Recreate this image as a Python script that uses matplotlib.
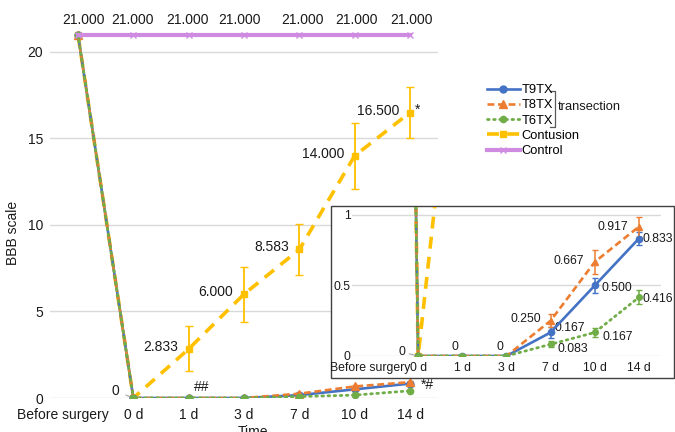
import numpy as np
import matplotlib
matplotlib.use("Agg")
import matplotlib.pyplot as plt
from matplotlib.lines import Line2D
from matplotlib.patches import Rectangle
import matplotlib.transforms as mtransforms

plt.rcParams['font.family'] = ['Liberation Sans', 'DejaVu Sans']

# data
days = ['Before surgery', '0 d', '1 d', '3 d', '7 d', '10 d', '14 d']
t9tx = [21, 0, 0, 0, 0.167, 0.500, 0.833]
t9tx_err = [0, 0, 0, 0, 0.04, 0.055, 0.045]
t8tx = [21, 0, 0, 0, 0.250, 0.667, 0.917]
t8tx_err = [0, 0, 0, 0, 0.045, 0.085, 0.07]
t6tx = [21, 0, 0, 0, 0.083, 0.167, 0.416]
t6tx_err = [0, 0, 0, 0, 0.02, 0.033, 0.05]
contusion = [21, 0, 2.833, 6.000, 8.583, 14.000, 16.500]
contusion_err = [0, 0, 1.3, 1.6, 1.5, 1.9, 1.5]
control = [21, 21, 21, 21, 21, 21, 21]

W, H = 675, 432
def box(x0, y0, x1, y1):
    return [x0 / W, 1 - y1 / H, (x1 - x0) / W, (y1 - y0) / H]

c_blue = '#4472C4'
c_orange = '#ED7D31'
c_green = '#70AD47'
c_yellow = '#FFC000'
c_violet = '#CF8BE2'
grid_c = '#D9D9D9'
txt_c = '#1A1A1A'

x = np.arange(len(days))

def draw_series(ax, ms_scale=1.0):
    ax.errorbar(x, contusion, yerr=contusion_err, color=c_yellow,
                lw=2.6, dashes=(3.3, 2.3), marker='s', ms=5 * ms_scale,
                elinewidth=1.3, capsize=3, zorder=2)
    ax.errorbar(x, t9tx, yerr=t9tx_err, color=c_blue, lw=1.9, marker='o',
                ms=5 * ms_scale, elinewidth=1.1, capsize=2.5, zorder=3)
    ax.errorbar(x, t8tx, yerr=t8tx_err, color=c_orange, lw=1.9, dashes=(2.6, 1.4),
                marker='^', ms=5.5 * ms_scale, elinewidth=1.1, capsize=2.5, zorder=3)
    ax.errorbar(x, t6tx, yerr=t6tx_err, color=c_green, lw=2.0, dashes=(0.6, 1.6),
                dash_capstyle='round', marker='o', ms=4.5 * ms_scale,
                elinewidth=1.1, capsize=2.5, zorder=3)
    ax.plot(x, control, color=c_violet, lw=3.0, marker='x', ms=5 * ms_scale,
            mew=1.0, zorder=4)

fig = plt.figure(figsize=(6.75, 4.32), dpi=100)

# main chart
ax = fig.add_axes(box(50.3, 26, 437.7, 398))
draw_series(ax)
ax.set_xlim(-0.5, 6.5)
ax.set_ylim(0, 21.5)
ax.set_yticks([0, 5, 10, 15, 20])
ax.set_xticks(x)
ax.set_xticklabels(days)
ax.grid(axis='y', color=grid_c, lw=1)
ax.set_axisbelow(True)
for s in ax.spines.values():
    s.set_visible(False)
ax.tick_params(length=0, labelsize=10, labelcolor=txt_c)
ax.tick_params(axis='y', pad=5)
ax.tick_params(axis='x', pad=7.5)
lab0 = ax.get_xticklabels()[0]
lab0.set_transform(lab0.get_transform() +
                   mtransforms.ScaledTranslation(-15 / 100, 0, fig.dpi_scale_trans))
ax.set_ylabel('BBB scale', fontsize=10, color=txt_c)
ax.yaxis.set_label_coords(-0.078, 0.444)
ax.set_xlabel('Time', fontsize=10, color=txt_c)
ax.xaxis.set_label_coords(0.523, -0.072)

def lab(a, xi, yi, s, dx, dy, ha='center', fs=10):
    a.annotate(s, (xi, yi), xytext=(dx * 0.72, dy * 0.72), textcoords='offset points',
               ha=ha, va='center', fontsize=fs, color=txt_c, annotation_clip=False)

ctrl_dx = [6, -1, -1, -4, 3, 2, 1]
for i, v in enumerate(control):
    lab(ax, x[i], v, f'{v:.3f}', ctrl_dx[i], 14.5)
for i in range(2, 7):
    lab(ax, x[i], contusion[i], f'{contusion[i]:.3f}', -10.5, 2, ha='right')
lab(ax, x[6], contusion[6], '*', 5, 3, ha='left')
ax.annotate('0', (x[1], 0), xytext=(-18 * 0.72, 7 * 0.72), textcoords='offset points',
            ha='center', va='center', fontsize=10, color=txt_c,
            arrowprops=dict(arrowstyle='-', color='#A6A6A6', lw=0.8, shrinkA=3, shrinkB=1))
lab(ax, x[2], 0, '##', 13, 11)
lab(ax, x[6], t9tx[6], '*#', 17, -1)

# inset
fig.patches.append(Rectangle((331 / W, 1 - 378 / H), 343 / W, 172 / H,
                             transform=fig.transFigure, facecolor='white',
                             edgecolor='#404040', lw=1.0, zorder=1))
axi = fig.add_axes(box(351.9, 206.5, 661, 356))
axi.set_zorder(2)
axi.patch.set_alpha(0)
draw_series(axi, ms_scale=0.9)
axi.set_xlim(-0.5, 6.5)
axi.set_ylim(0, 1.06)
axi.set_yticks([0, 0.5, 1])
axi.set_yticklabels(['0', '0.5', '1'])
axi.set_xticks(x)
axi.set_xticklabels(days)
axi.grid(axis='y', color=grid_c, lw=1)
axi.set_axisbelow(True)
for s in axi.spines.values():
    s.set_visible(False)
axi.tick_params(length=0, labelsize=8.8, labelcolor=txt_c)
axi.tick_params(axis='y', pad=1)
axi.tick_params(axis='x', pad=4.5)
lab0 = axi.get_xticklabels()[0]
lab0.set_transform(lab0.get_transform() +
                   mtransforms.ScaledTranslation(-4 / 100, 0, fig.dpi_scale_trans))

fsi = 8.8
axi.annotate('0', (x[1], 0), xytext=(-13 * 0.72, 4 * 0.72), textcoords='offset points',
             ha='right', va='center', fontsize=fsi, color=txt_c, annotation_clip=False,
             arrowprops=dict(arrowstyle='-', color='#A6A6A6', lw=0.8, shrinkA=1, shrinkB=1))
lab(axi, x[2], 0, '0', -7, 9, fs=fsi)
lab(axi, x[3], 0, '0', -7, 9, fs=fsi)
lab(axi, x[4], t8tx[4], '0.250', -9, 2, ha='right', fs=fsi)
lab(axi, x[4], t9tx[4], '0.167', 4, 4.5, ha='left', fs=fsi)
lab(axi, x[4], t6tx[4], '0.083', 7, -5, ha='left', fs=fsi)
lab(axi, x[5], t8tx[5], '0.667', -11, 1, ha='right', fs=fsi)
lab(axi, x[5], t9tx[5], '0.500', 7, -2.5, ha='left', fs=fsi)
lab(axi, x[5], t6tx[5], '0.167', 8, -4.5, ha='left', fs=fsi)
lab(axi, x[6], t8tx[6], '0.917', -11, 0, ha='right', fs=fsi)
lab(axi, x[6], t9tx[6], '0.833', 4, 0, ha='left', fs=fsi)
lab(axi, x[6], t6tx[6], '0.416', 4, -2, ha='left', fs=fsi)

# legend
handles = [
    Line2D([], [], color=c_blue, lw=1.9, marker='o', ms=5),
    Line2D([], [], color=c_orange, lw=1.9, dashes=(2.6, 1.4), marker='^', ms=5.5),
    Line2D([], [], color=c_green, lw=2.0, dashes=(0.6, 1.6), dash_capstyle='round',
           marker='o', ms=4.5),
    Line2D([], [], color=c_yellow, lw=2.6, dashes=(3.3, 2.3), marker='s', ms=5),
    Line2D([], [], color=c_violet, lw=3.0, marker='x', ms=5, mew=1.0),
]
names = ['T9TX', 'T8TX', 'T6TX', 'Contusion', 'Control']
fig.legend(handles, names, loc='upper left', bbox_to_anchor=(487 / W, 1 - 84 / H),
           frameon=False, fontsize=9.3, handlelength=2.55, handletextpad=0.15,
           labelspacing=0.25, borderpad=0, borderaxespad=0)

# bracket for transection
bx = [550 / W, 555 / W, 555 / W, 550 / W]
by = [1 - 91 / H, 1 - 91 / H, 1 - 127 / H, 1 - 127 / H]
fig.add_artist(Line2D(bx, by, transform=fig.transFigure, color='#595959', lw=0.9))
fig.text(558 / W, 1 - 107 / H, 'transection', ha='left', va='center',
         fontsize=9.3, color=txt_c)

fig.savefig('out.png', dpi=100)
